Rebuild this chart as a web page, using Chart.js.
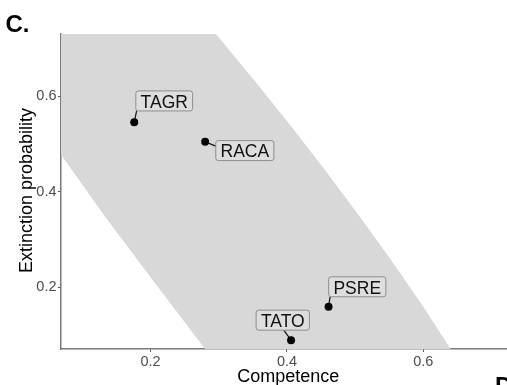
<!DOCTYPE html>
<html><head><meta charset="utf-8">
<script src="https://cdn.jsdelivr.net/npm/chart.js@4"></script>
<style>html,body{margin:0;padding:0;background:#fff;overflow:hidden}#wrap{width:507px;height:385px}</style>
</head><body><div id="wrap"><canvas id="c" width="507" height="385"></canvas></div>
<script>
// ---- data ----
const species = ['TAGR', 'RACA', 'PSRE', 'TATO'];
const competence = [0.176, 0.280, 0.461, 0.406];
const extinction = [0.546, 0.505, 0.159, 0.089];
// prediction band outline (lower edge, then upper edge reversed)
const bandX = [0.040, 0.0708, 0.1333, 0.2066, 0.2774, 0.2855, 0.6448, 0.6400, 0.5983, 0.5526, 0.5050, 0.4557, 0.4046, 0.3517, 0.2971, 0.2787, 0.040];
const bandY = [0.535, 0.4736, 0.3478, 0.2082, 0.0753, 0.060, 0.060, 0.0705, 0.1627, 0.2570, 0.3514, 0.4457, 0.5401, 0.6344, 0.7287, 0.760, 0.760];
const xTicks = [0.2, 0.4, 0.6];
const yTicks = [0.2, 0.4, 0.6];
const xRange = [0.0686, 0.7227];
const yRange = [0.0705, 0.731];
const xTitle = 'Competence';
const yTitle = 'Extinction probability';
const panelLetter = 'C.';
const nextPanelLetter = 'D.';

// ---- label placement (pixel offsets, style only) ----
const labelLayout = [
  {dx: 30, dy: -21.3, lx: 2.4, ly: -11.3},
  {dx: 39.7, dy: 8.8, lx: 10.5, ly: 4.3},
  {dx: 28.7, dy: -20, lx: 1.5, ly: -10},
  {dx: -8.3, dy: -20, lx: -7.3, ly: -10}
];
const FONT = '"Liberation Sans", Arial, Helvetica, sans-serif';

function rr(ctx, x, y, w, h, r) {
  ctx.beginPath();
  ctx.moveTo(x + r, y);
  ctx.lineTo(x + w - r, y); ctx.quadraticCurveTo(x + w, y, x + w, y + r);
  ctx.lineTo(x + w, y + h - r); ctx.quadraticCurveTo(x + w, y + h, x + w - r, y + h);
  ctx.lineTo(x + r, y + h); ctx.quadraticCurveTo(x, y + h, x, y + h - r);
  ctx.lineTo(x, y + r); ctx.quadraticCurveTo(x, y, x + r, y);
  ctx.closePath();
}

const decor = {
  id: 'decor',
  beforeDraw(chart) {
    const ctx = chart.ctx;
    ctx.save(); ctx.fillStyle = '#fff'; ctx.fillRect(0, 0, chart.width, chart.height); ctx.restore();
  },
  afterDatasetDraw(chart, args) {
    if (args.index !== 0) return;
    const {ctx, scales: {x, y}} = chart;
    ctx.save();
    ctx.strokeStyle = '#111'; ctx.lineWidth = 1.2;
    species.forEach((s, i) => {
      const px = x.getPixelForValue(competence[i]), py = y.getPixelForValue(extinction[i]);
      const L = labelLayout[i];
      ctx.beginPath(); ctx.moveTo(px, py); ctx.lineTo(px + L.lx, py + L.ly); ctx.stroke();
    });
    ctx.restore();
  },
  afterDatasetsDraw(chart) {
    const {ctx, scales: {x, y}} = chart;
    const fs = 17.5;
    ctx.save();
    ctx.font = fs + 'px ' + FONT;
    species.forEach((s, i) => {
      const px = x.getPixelForValue(competence[i]), py = y.getPixelForValue(extinction[i]);
      const L = labelLayout[i];
      const w = ctx.measureText(s).width + 9.5, h = 20;
      const cx = px + L.dx, cy = py + L.dy;
      rr(ctx, cx - w / 2, cy - h / 2, w, h, 2.5);
      ctx.fillStyle = '#dedede'; ctx.fill();
      ctx.strokeStyle = '#8c8c8c'; ctx.lineWidth = 1; ctx.stroke();
      ctx.fillStyle = '#111'; ctx.textAlign = 'center'; ctx.textBaseline = 'alphabetic';
      ctx.fillText(s, cx, cy + 0.36 * fs + 0.5);
    });
    ctx.restore();
  },
  afterDraw(chart) {
    const ctx = chart.ctx;
    ctx.save();
    ctx.fillStyle = '#000';
    ctx.font = '18px ' + FONT;
    ctx.textAlign = 'center'; ctx.textBaseline = 'alphabetic';
    ctx.fillText(xTitle, 288.3, 382.3);
    ctx.save();
    ctx.translate(31.5, 190.5); ctx.rotate(-Math.PI / 2);
    ctx.fillText(yTitle, 0, 0);
    ctx.restore();
    ctx.font = 'bold 24px ' + FONT;
    ctx.textAlign = 'left';
    ctx.fillText(panelLetter, 5.5, 32);
    ctx.fillText(nextPanelLetter, 495, 394);
    ctx.restore();
  }
};

const bandData = bandX.map((v, i) => ({x: v, y: bandY[i]}));
const pointData = competence.map((v, i) => ({x: v, y: extinction[i]}));

new Chart(document.getElementById('c'), {
  type: 'scatter',
  data: {
    datasets: [
      {type: 'line', data: bandData, showLine: true, fill: 'shape', backgroundColor: '#d8d8d8',
       borderWidth: 0, borderColor: 'rgba(0,0,0,0)', pointRadius: 0, tension: 0, order: 2},
      {type: 'scatter', data: pointData, backgroundColor: '#000', borderColor: '#000',
       pointRadius: 4, borderWidth: 0, order: 1}
    ]
  },
  options: {
    responsive: false, animation: false, devicePixelRatio: 1,
    layout: {autoPadding: false, padding: {top: 34, left: 0, right: 0, bottom: 0}},
    plugins: {legend: {display: false}, tooltip: {enabled: false}},
    scales: {
      x: {
        type: 'linear', min: xRange[0], max: xRange[1],
        afterBuildTicks: s => { s.ticks = xTicks.map(v => ({value: v})); },
        afterFit: s => { s.height = 36; },
        grid: {display: true, drawOnChartArea: false, drawTicks: true, tickLength: 3, tickColor: '#555', tickWidth: 1},
        border: {display: true, color: '#7a7a7a', width: 1.5},
        ticks: {padding: 1, color: '#4d4d4d', font: {family: FONT, size: 14.5}, callback: v => Number(v).toFixed(1)}
      },
      y: {
        type: 'linear', min: yRange[0], max: yRange[1],
        afterBuildTicks: s => { s.ticks = yTicks.map(v => ({value: v})); },
        afterFit: s => { s.width = 61; },
        grid: {display: true, drawOnChartArea: false, drawTicks: true, tickLength: 3, tickColor: '#555', tickWidth: 1},
        border: {display: true, color: '#7a7a7a', width: 1.5},
        ticks: {padding: 1.5, color: '#4d4d4d', font: {family: FONT, size: 14.5}, callback: v => Number(v).toFixed(1)}
      }
    }
  },
  plugins: [decor]
});
</script>
</body></html>
